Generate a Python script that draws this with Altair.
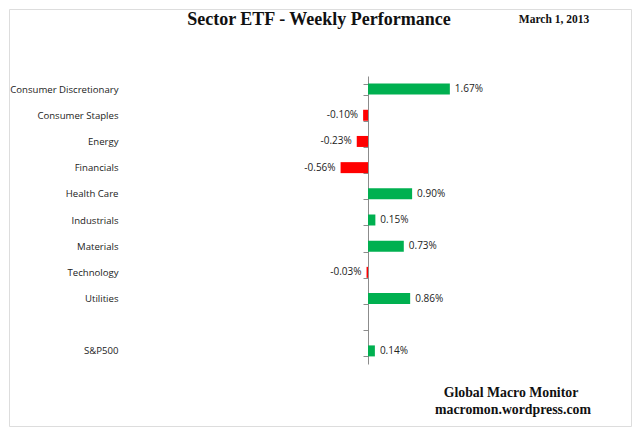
import altair as alt
import pandas as pd

# weekly performance in percent (blank slot before S&P500)
sectors = ["Consumer Discretionary", "Consumer Staples", "Energy", "Financials",
           "Health Care", "Industrials", "Materials", "Technology", "Utilities",
           " ", "S&P500"]
returns = [1.67, -0.10, -0.23, -0.56, 0.90, 0.15, 0.73, -0.03, 0.86, None, 0.14]

df = pd.DataFrame({"sector": sectors, "ret": returns})
df["label"] = df["ret"].map(lambda v: "" if pd.isna(v) else f"{v:.2f}%")

W, H = 622, 417
x_scale = alt.Scale(domain=[-7.327, 5.367], nice=False, zero=False)
y_scale = alt.Scale(domain=sectors, range=[67, 355], paddingInner=0.58, paddingOuter=0.29)

base = alt.Chart(df)

bars = base.mark_bar().transform_filter("isValid(datum.ret)").encode(
    x=alt.X("ret:Q", scale=x_scale, axis=None),
    x2=alt.datum(0),
    y=alt.Y("sector:N", scale=y_scale, sort=sectors,
            axis=alt.Axis(title=None, offset=-359, tickBand="extent", tickSize=5,
                          tickColor="#8c8c8c", domainColor="#8c8c8c",
                          labelPadding=245, labelFont="Open Sans", labelFontSize=9.6,
                          labelColor="#222222", grid=False)),
    color=alt.condition("datum.ret >= 0", alt.value("#00b050"), alt.value("#ff0000")),
)

pos_text = base.mark_text(align="left", dx=5, font="Open Sans", fontSize=10,
                          color="#222222").transform_filter("datum.ret >= 0").encode(
    x=alt.X("ret:Q", scale=x_scale), y=alt.Y("sector:N", scale=y_scale, sort=sectors),
    text="label:N")

neg_text = base.mark_text(align="right", dx=-5, font="Open Sans", fontSize=10,
                          color="#222222").transform_filter("datum.ret < 0").encode(
    x=alt.X("ret:Q", scale=x_scale), y=alt.Y("sector:N", scale=y_scale, sort=sectors),
    text="label:N")

notes = pd.DataFrame({
    "text": ["Sector ETF - Weekly Performance", "March 1, 2013",
             "Global Macro Monitor", "macromon.wordpress.com"],
    "px": [310, 545, 502, 504],
    "py": [11, 11, 384, 401],
    "size": [18, 11.5, 13.8, 13.8],
})
heads = alt.Chart(notes).mark_text(font="Liberation Serif", fontWeight="bold",
                                   color="#111111", baseline="middle").encode(
    x=alt.X("px:Q", scale=None), y=alt.Y("py:Q", scale=None),
    text="text:N", size=alt.Size("size:Q", scale=None, legend=None))

chart = alt.layer(bars, pos_text, neg_text, heads).properties(
    width=W, height=H, padding=1, autosize=alt.AutoSizeParams(type="none")
).configure_view(stroke="#a6a6a6", strokeWidth=1.5).configure(background="white")

chart.save("out.html", embed_options={"renderer": "svg", "actions": False})
